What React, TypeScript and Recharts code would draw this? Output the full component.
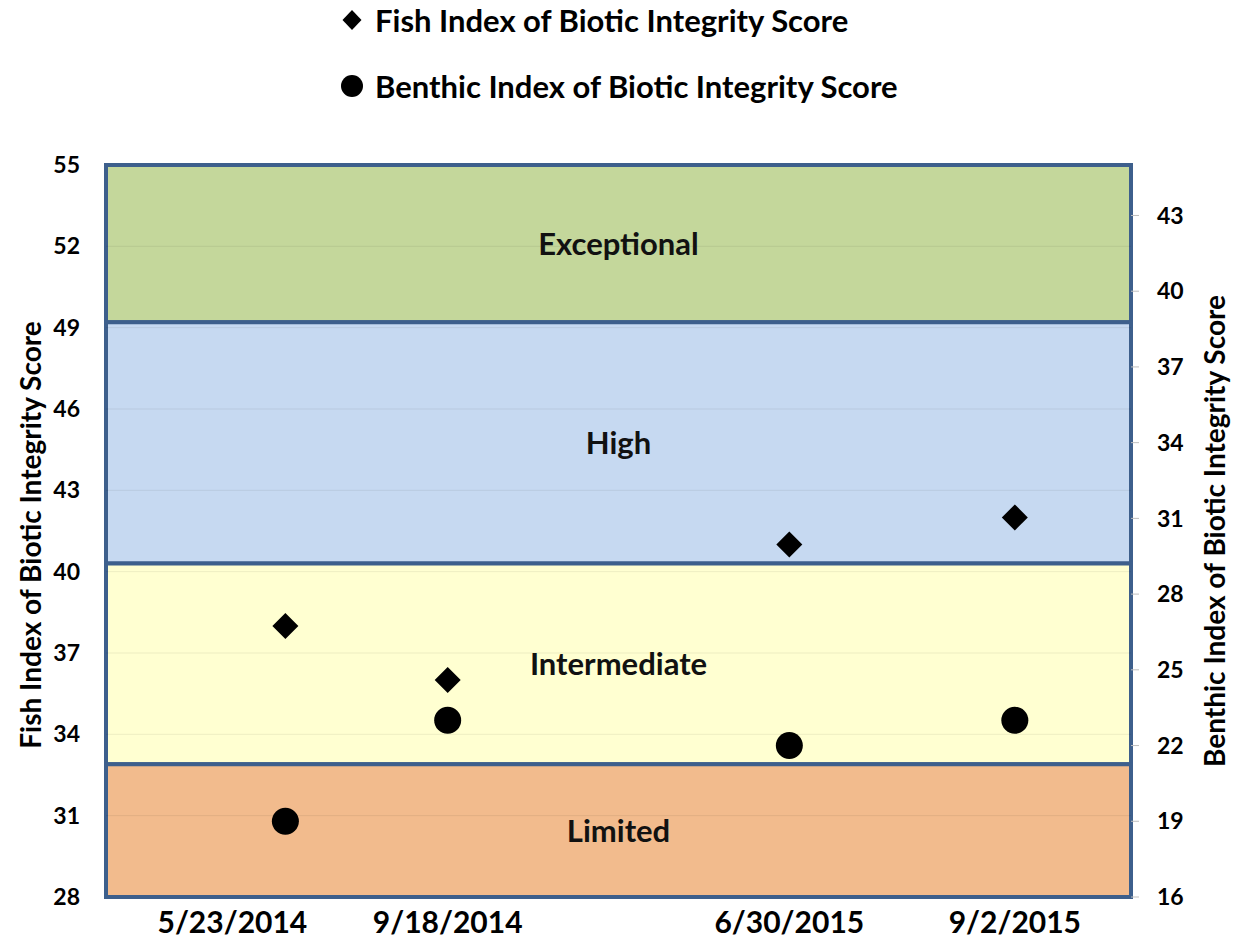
import React from 'react';
import {
  ComposedChart,
  Scatter,
  XAxis,
  YAxis,
  ReferenceArea,
  ReferenceLine,
  Legend,
} from 'recharts';

// ---- data ----
const sampleDates = ['5/23/2014', '9/18/2014', '6/30/2015', '9/2/2015'];
const datePositions = [1.05, 2.0, 4.0, 5.32];
const fishScores = [38, 36, 41, 42];
const benthicScores = [19, 23, 22, 23];
const fishTicks = [28, 31, 34, 37, 40, 43, 46, 49, 52, 55];
const benthicTicks = [16, 19, 22, 25, 28, 31, 34, 37, 40, 43];
const bandNames = ['Exceptional', 'High', 'Intermediate', 'Limited'];
const bandLows = [49.2, 40.3, 32.9, 28];
const bandHighs = [55, 49.2, 40.3, 32.9];

// ---- styles ----
const FONT = 'Lato, "Open Sans", sans-serif';
const bandColors = ['#C4D79B', '#C6D9F1', '#FFFFD1', '#F2BB8D'];
const BORDER = '#3D5F8C';

const fishData = datePositions.map((x, i) => ({ x, y: fishScores[i], date: sampleDates[i] }));
const benthicData = datePositions.map((x, i) => ({ x, y: benthicScores[i], date: sampleDates[i] }));

const Diamond = (props: any) => {
  const { cx, cy } = props;
  const r = 13;
  return <path d={`M${cx},${cy - r} L${cx + r},${cy} L${cx},${cy + r} L${cx - r},${cy} Z`} fill="#000" />;
};

const Dot = (props: any) => {
  const { cx, cy } = props;
  return <circle cx={cx} cy={cy} r={13.5} fill="#000" />;
};

const DateTick = (props: any) => {
  const { x, y, payload, index } = props;
  const label = sampleDates[datePositions.indexOf(payload.value)] ?? '';
  // Excel nudged the first label left to avoid colliding with the second
  const shift = index === 0 ? -53 : 0;
  return (
    <text
      x={x + shift}
      y={y + 24}
      textAnchor="middle"
      dominantBaseline="central"
      fontFamily={FONT}
      fontWeight={700}
      fontSize={30}
      fill="#000"
    >
      {label}
    </text>
  );
};

const LegendContent = () => (
  <div style={{ position: 'relative', width: 1233, height: 110, fontFamily: FONT, fontWeight: 700, color: '#000' }}>
    <div style={{ position: 'absolute', left: 340, top: 1, height: 38, display: 'flex', alignItems: 'center' }}>
      <svg width={24} height={24} style={{ marginRight: 11 }}>
        <path d="M12,2 L21.5,12 L12,22 L2.5,12 Z" fill="#000" />
      </svg>
      <span style={{ fontSize: 31, whiteSpace: 'nowrap' }}>Fish Index of Biotic Integrity Score</span>
    </div>
    <div style={{ position: 'absolute', left: 340, top: 67, height: 38, display: 'flex', alignItems: 'center' }}>
      <svg width={24} height={24} style={{ marginRight: 11 }}>
        <circle cx={12} cy={12} r={11} fill="#000" />
      </svg>
      <span style={{ fontSize: 31, whiteSpace: 'nowrap' }}>Benthic Index of Biotic Integrity Score</span>
    </div>
  </div>
);

const LeftTitle = (props: any) => {
  const vb = props.viewBox || {};
  const cx = 30;
  const cy = vb.y + vb.height / 2 + 4;
  return (
    <text
      x={cx}
      y={cy}
      transform={`rotate(-90, ${cx}, ${cy})`}
      textAnchor="middle"
      dominantBaseline="central"
      fontFamily={FONT}
      fontWeight={700}
      fontSize={28}
      fill="#000"
    >
      Fish Index of Biotic Integrity Score
    </text>
  );
};

const RightTitle = (props: any) => {
  const vb = props.viewBox || {};
  const cx = vb.x + 83;
  const cy = vb.y + vb.height / 2;
  return (
    <text
      x={cx}
      y={cy}
      transform={`rotate(-90, ${cx}, ${cy})`}
      textAnchor="middle"
      dominantBaseline="central"
      fontFamily={FONT}
      fontWeight={700}
      fontSize={28}
      fill="#000"
    >
      Benthic Index of Biotic Integrity Score
    </text>
  );
};

export default function App() {
  return (
    <div style={{ position: 'absolute', left: 0, top: 0, width: 1233, height: 950, background: '#fff' }}>
      <ComposedChart width={1233} height={950} margin={{ top: 165, right: 32, bottom: 3, left: 30 }}>
        <XAxis
          type="number"
          dataKey="x"
          domain={[0, 6]}
          ticks={datePositions}
          interval={0}
          axisLine={false}
          tickLine={false}
          tickSize={0}
          tickMargin={0}
          height={50}
          tick={<DateTick />}
        />
        <YAxis
          yAxisId="fish"
          orientation="left"
          type="number"
          domain={[28, 55]}
          ticks={fishTicks}
          interval={0}
          allowDataOverflow
          axisLine={false}
          tickLine={false}
          tickSize={0}
          tickMargin={26}
          width={76}
          tick={{ fontFamily: FONT, fontWeight: 700, fontSize: 23, fill: '#000' }}
          label={{ content: LeftTitle }}
        />
        <YAxis
          yAxisId="benthic"
          orientation="right"
          type="number"
          domain={[16, 45]}
          ticks={benthicTicks}
          interval={0}
          allowDataOverflow
          axisLine={false}
          tickLine={{ stroke: '#BFBFBF' }}
          tickSize={8}
          tickMargin={18}
          width={70}
          tick={{ fontFamily: FONT, fontWeight: 700, fontSize: 23, fill: '#000' }}
          label={{ content: RightTitle }}
        />
        {bandNames.map((name, i) => (
          <ReferenceArea
            key={name}
            yAxisId="fish"
            x1={0}
            x2={6}
            y1={bandLows[i]}
            y2={bandHighs[i]}
            fill={bandColors[i]}
            fillOpacity={1}
            stroke={BORDER}
            strokeWidth={4}
            ifOverflow="visible"
            label={{
              value: name,
              position: 'center',
              fill: '#111',
              fontSize: 31,
              fontWeight: 700,
              fontFamily: FONT,
            }}
          />
        ))}
        {fishTicks.slice(1, -1).map((t) => (
          <ReferenceLine key={t} yAxisId="fish" y={t} stroke="#000" strokeOpacity={0.07} strokeWidth={1} />
        ))}
        <Scatter
          name="Fish Index of Biotic Integrity Score"
          yAxisId="fish"
          data={fishData}
          dataKey="y"
          shape={Diamond}
          isAnimationActive={false}
        />
        <Scatter
          name="Benthic Index of Biotic Integrity Score"
          yAxisId="benthic"
          data={benthicData}
          dataKey="y"
          shape={Dot}
          isAnimationActive={false}
        />
        <Legend
          layout="horizontal"
          verticalAlign="middle"
          align="center"
          wrapperStyle={{ top: 0, left: 0, width: 1233, height: 110 }}
          content={LegendContent}
        />
      </ComposedChart>
    </div>
  );
}
